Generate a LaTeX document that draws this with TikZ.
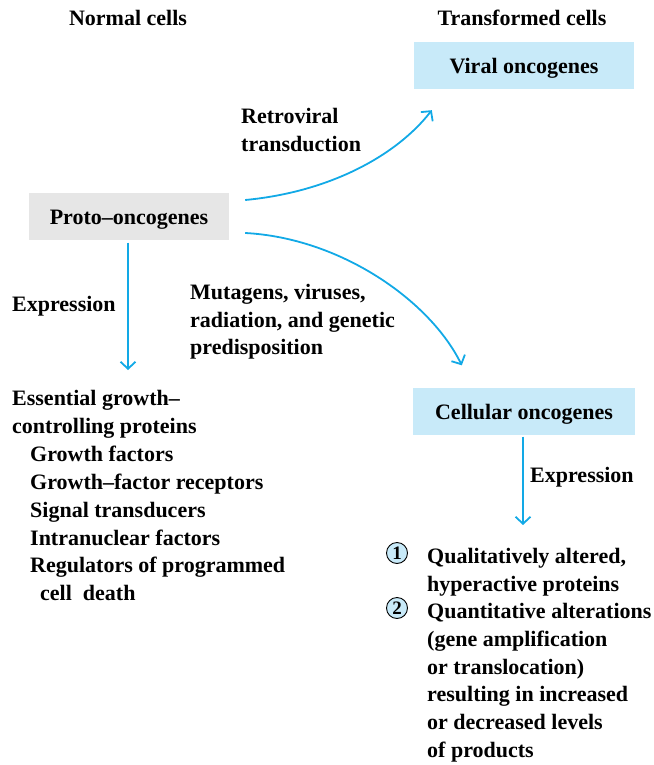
\documentclass[tikz,border=0pt]{standalone}
\usepackage{fontspec}
\setmainfont{Liberation Serif}
\usetikzlibrary{arrows.meta}
\definecolor{arrowblue}{HTML}{12A9E6}
\definecolor{boxblue}{HTML}{C8EAF9}
\definecolor{boxgray}{HTML}{E6E6E6}
\begin{document}
\begin{tikzpicture}[x=1pt,y=-1pt,
  txt/.style={font=\fontsize{22}{27.7}\selectfont\bfseries, inner sep=0pt, anchor=base west},
  ctxt/.style={txt, anchor=base},
  box/.style={font=\fontsize{22}{27.7}\selectfont\bfseries, inner sep=0pt,
    minimum width=220pt, minimum height=47pt, text height=18pt, text depth=2pt},
  arr/.style={draw=arrowblue, line width=1.8pt, -{Straight Barb[length=7pt,width=15pt]}},
  num/.style={circle, draw=black, fill=boxblue, line width=0.9pt, minimum size=21pt,
    inner sep=0pt, font=\fontsize{19}{19}\selectfont\bfseries}
]
\useasboundingbox (0,0) rectangle (653,765);

% headers
\node[ctxt] (hnormal) at (128,26) {Normal cells};
\node[ctxt] (htrans) at (522,26) {Transformed cells};

% boxes
\node[box, fill=boxblue] (vbox) at (524,65.5) {Viral oncogenes};
\node[box, fill=boxgray, minimum width=200pt] (proto) at (129,216) {Proto--oncogenes};
\node[box, fill=boxblue, minimum width=222pt] (cbox) at (524,411) {Cellular oncogenes};

% labels on arrows
\node[txt] (retro1) at (241,124) {Retroviral};
\node[txt] (retro2) at (241,151) {transduction};
\node[txt] (mut1) at (190,299) {Mutagens, viruses,};
\node[txt] (mut2) at (190,327) {radiation, and genetic};
\node[txt] (mut3) at (190,354) {predisposition};
\node[txt] (expl) at (12,311) {Expression};
\node[txt] (expr) at (530,482) {Expression};

% left list
\node[txt] (l1) at (12,405) {Essential growth--};
\node[txt] (l2) at (12,433) {controlling proteins};
\node[txt] (l3) at (30,461) {Growth factors};
\node[txt] (l4) at (30,489) {Growth--factor receptors};
\node[txt] (l5) at (30,517) {Signal transducers};
\node[txt] (l6) at (30,545) {Intranuclear factors};
\node[txt] (l7) at (30,572) {Regulators of programmed};
\node[txt] (l8) at (40,600) {cell\ \ death};

% right list
\node[num] (n1) at (397,553) {1};
\node[txt] (r1) at (427,563) {Qualitatively altered,};
\node[txt] (r2) at (427,591) {hyperactive proteins};
\node[num] (n2) at (397,608) {2};
\node[txt] (r3) at (427,618) {Quantitative alterations};
\node[txt] (r4) at (427,646) {(gene amplification};
\node[txt] (r5) at (427,674) {or translocation)};
\node[txt] (r6) at (427,701) {resulting in increased};
\node[txt] (r7) at (427,729) {or decreased levels};
\node[txt] (r8) at (427,757) {of products};

% arrow ends
\coordinate (lend) at (128,370);
\coordinate (rend) at (523,525);

% connectors
\draw[arr] ([shift={(16,-16)}]proto.east) .. controls +(85,-8) and +(-35,45) .. ([shift={(18,21)}]vbox.south west);
\draw[arr] ([shift={(16,17)}]proto.east) .. controls +(95,5) and +(-32,-65) .. ([shift={(49,-22)}]cbox.north west);
\draw[arr] ([shift={(-1,3)}]proto.south) -- (lend);
\draw[arr] ([shift={(-1,2)}]cbox.south) -- (rend);
\end{tikzpicture}
\end{document}
